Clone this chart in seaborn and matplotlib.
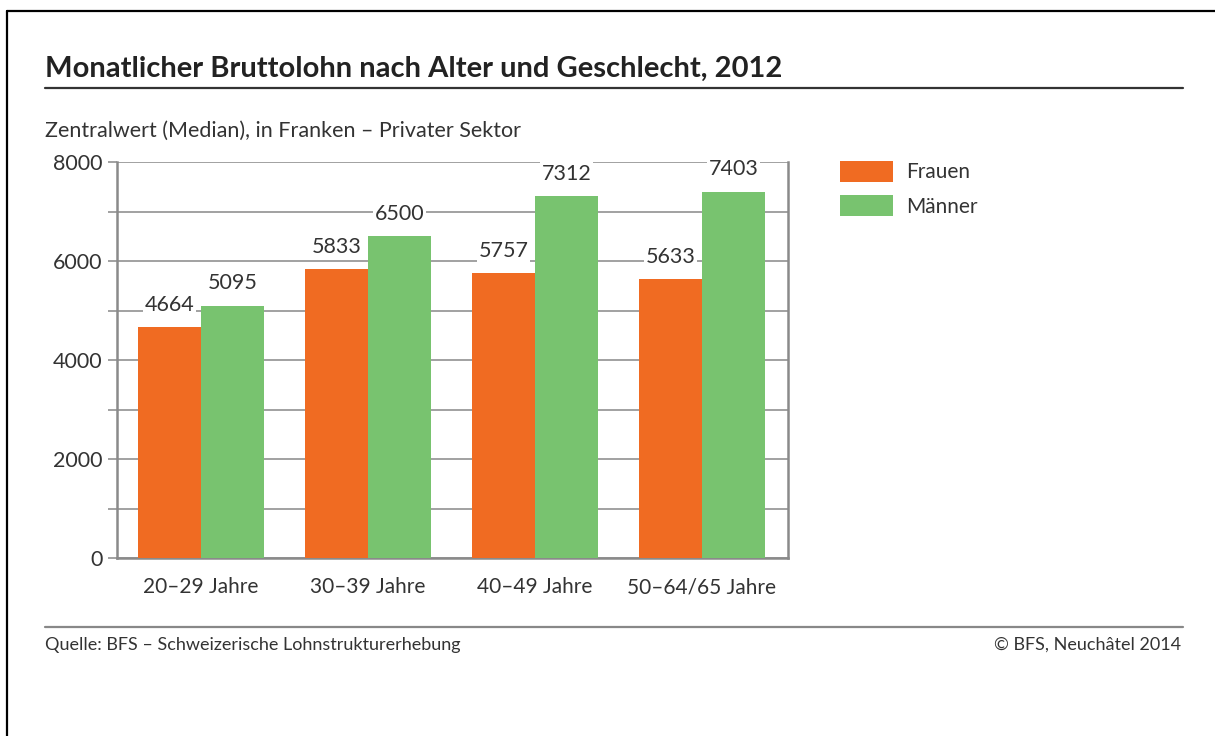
import matplotlib
matplotlib.use("Agg")
import matplotlib.pyplot as plt
from matplotlib.lines import Line2D
from matplotlib.patches import Patch
import seaborn as sns
import pandas as pd

# ---- data ----
categories = ["20–29 Jahre", "30–39 Jahre", "40–49 Jahre", "50–64/65 Jahre"]
frauen = [4664, 5833, 5757, 5633]
maenner = [5095, 6500, 7312, 7403]
series = ["Frauen", "Männer"]
y_ticks = [0, 2000, 4000, 6000, 8000]
y_minor = [1000, 3000, 5000, 7000]

title = "Monatlicher Bruttolohn nach Alter und Geschlecht, 2012"
subtitle = "Zentralwert (Median), in Franken – Privater Sektor"
source = "Quelle: BFS – Schweizerische Lohnstrukturerhebung"
copyright_txt = "© BFS, Neuchâtel 2014"

df = pd.DataFrame({
    "Alter": categories * 2,
    "Lohn": frauen + maenner,
    "Geschlecht": [series[0]] * len(categories) + [series[1]] * len(categories),
})

sns.set_theme(style="white")
plt.rcParams["font.family"] = ["Lato", "DejaVu Sans"]

W, H = 1215, 736
fig = plt.figure(figsize=(W / 100, H / 100), dpi=100)
fig.patch.set_facecolor("white")

def fx(px):
    return px / W

def fy(py):
    return 1 - py / H

ax = fig.add_axes([fx(117), fy(558), fx(788) - fx(117), fy(162) - fy(558)])

colors = ["#F06B22", "#78C36F"]
sns.barplot(data=df, x="Alter", y="Lohn", hue="Geschlecht", palette=colors,
            width=0.755, gap=0, saturation=1, ax=ax, legend=False,
            edgecolor="none", linewidth=0, zorder=3)

ax.set_xlim(-0.503, 3.515)
ax.set_ylim(0, 8000)
ax.set_xlabel("")
ax.set_ylabel("")

text_color = "#333333"
grid_color = "#9a9a9a"

ax.set_yticks(y_ticks)
ax.set_yticks(y_minor, minor=True)
ax.set_yticklabels([str(v) for v in y_ticks], fontsize=15.5, color=text_color)
ax.tick_params(axis="y", which="both", length=6.5, width=1.3, color=grid_color,
               left=True, pad=4)
ax.tick_params(axis="x", length=0, pad=14, labelsize=15, labelcolor=text_color)
ax.grid(axis="y", which="both", color=grid_color, linewidth=1.3, zorder=1)
ax.set_axisbelow(True)

for side in ["left", "right", "bottom", "top"]:
    ax.spines[side].set_visible(side != "top")
    ax.spines[side].set_color("#8a8a8a")
    ax.spines[side].set_linewidth(1.8)

for cont in ax.containers:
    ax.bar_label(cont, fmt="%d", padding=9, fontsize=15.5, color=text_color,
                 bbox=dict(facecolor="white", edgecolor="none", pad=1.0),
                 zorder=4)

# legend
handles = [Patch(facecolor=c, edgecolor="none", label=s) for c, s in zip(colors, series)]
fig.legend(handles=handles, loc="upper left", bbox_to_anchor=(fx(840), fy(161)),
           frameon=False, fontsize=15, handlelength=2.55, handleheight=1.15,
           labelspacing=0.62, handletextpad=0.6, borderpad=0, borderaxespad=0,
           labelcolor=text_color)

# titles
fig.text(fx(45), fy(69), title, fontsize=21, fontweight="bold", color="#222222",
         ha="left", va="center")
fig.text(fx(45), fy(131), subtitle, fontsize=15.5, color=text_color,
         ha="left", va="center")
fig.add_artist(Line2D([fx(45), fx(1183)], [fy(88), fy(88)], color="#333333",
                      linewidth=1.6, transform=fig.transFigure))
fig.add_artist(Line2D([fx(45), fx(1183)], [fy(627), fy(627)], color="#888888",
                      linewidth=1.6, transform=fig.transFigure))
fig.text(fx(45), fy(645), source, fontsize=13, color=text_color,
         ha="left", va="center")
fig.text(fx(1181), fy(645), copyright_txt, fontsize=13, color=text_color,
         ha="right", va="center")

# outer frame (top & left)
fig.add_artist(Line2D([fx(7), fx(1215)], [fy(11), fy(11)], color="black",
                      linewidth=1.6, transform=fig.transFigure))
fig.add_artist(Line2D([fx(7), fx(7)], [fy(11), fy(736)], color="black",
                      linewidth=1.6, transform=fig.transFigure))

fig.savefig("out.png", dpi=100, facecolor="white")
